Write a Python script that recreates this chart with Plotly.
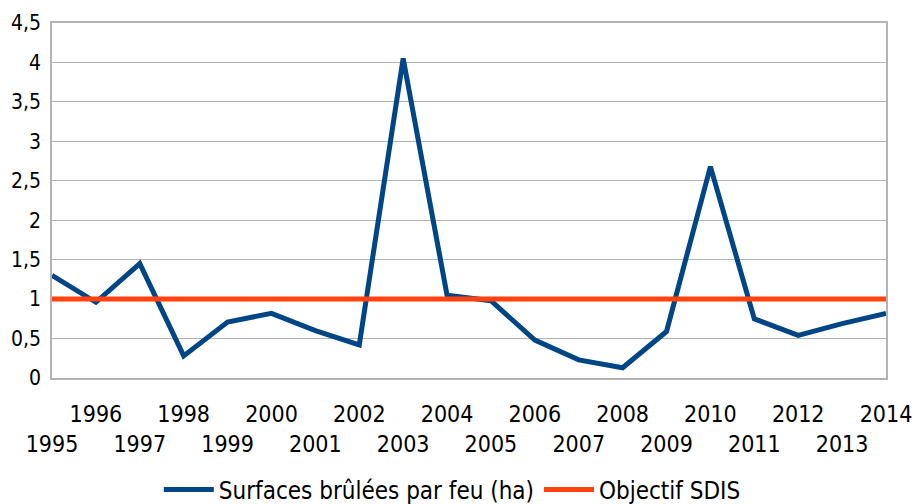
import plotly.graph_objects as go

years = list(range(1995, 2015))
surfaces = [1.30, 0.96, 1.45, 0.28, 0.71, 0.82, 0.60, 0.42, 4.05, 1.05,
            0.98, 0.48, 0.23, 0.13, 0.59, 2.68, 0.75, 0.54, 0.69, 0.82]
objectif = [1] * len(years)
year_labels = [str(y) if y % 2 == 0 else "<br>" + str(y) for y in years]
y_ticks = [0, 0.5, 1, 1.5, 2, 2.5, 3, 3.5, 4, 4.5]

FONT = "Liberation Sans Narrow, DejaVu Sans Condensed, Arial Narrow, sans-serif"

fig = go.Figure()
fig.add_trace(go.Scatter(x=years, y=surfaces, mode="lines",
                         name="Surfaces brûlées par feu (ha)",
                         line=dict(color="#004586", width=5)))
fig.add_trace(go.Scatter(x=years, y=objectif, mode="lines",
                         name="Objectif SDIS",
                         line=dict(color="#ff420e", width=5)))

fig.update_layout(
    width=916, height=504,
    margin=dict(l=52, r=30, t=23, b=126, autoexpand=False),
    paper_bgcolor="white", plot_bgcolor="white",
    separators=", ",
    font=dict(family=FONT, size=21, color="black"),
    showlegend=True,
    legend=dict(orientation="h", x=0.48, xanchor="center", y=-0.315, yanchor="middle",
                font=dict(size=24), tracegroupgap=0, itemwidth=50),
)
fig.update_xaxes(range=[1995, 2014], tickmode="array", tickvals=years, ticktext=year_labels,
                 tickangle=0, automargin=False,
                 showgrid=False, showline=True, linecolor="#b3b3b3", linewidth=1.5,
                 mirror=True, ticks="", tickfont=dict(size=23), zeroline=False,
                 ticklabelstandoff=15)
fig.update_yaxes(range=[0, 4.5], tickmode="array", tickvals=y_ticks, automargin=False,
                 showgrid=True, gridcolor="#b3b3b3", gridwidth=1.3,
                 showline=True, linecolor="#b3b3b3", linewidth=1.5, mirror=True,
                 ticks="", tickfont=dict(size=21), zeroline=False, ticklabelstandoff=5)

fig.write_html("out.html")
